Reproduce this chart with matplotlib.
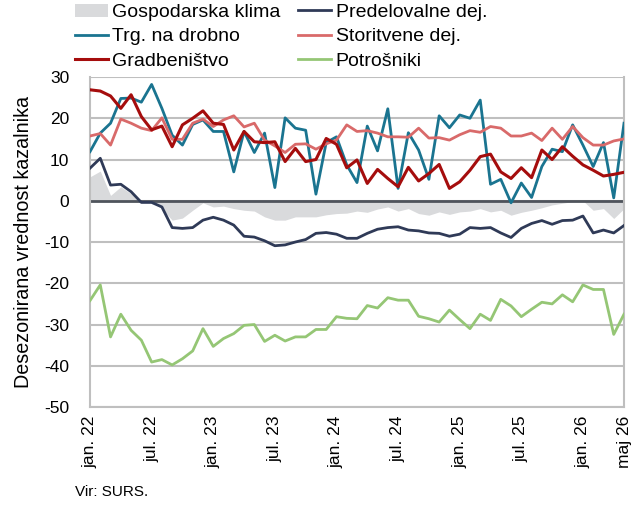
import matplotlib
matplotlib.use("Agg")
import matplotlib.pyplot as plt
import numpy as np

plt.rcParams['font.family'] = ['Liberation Sans', 'DejaVu Sans']
plt.rcParams['axes.unicode_minus'] = False
NARROW = ['Liberation Sans Narrow', 'Liberation Sans', 'DejaVu Sans']

# monthly values, jan 2022 .. maj 2026
klima = [5.8, 7.2, 1.3, 3.4, 1.7, 0.0, -0.3, -1.9, -4.7, -4.2,
         -2.3, -0.5, -1.5, -1.3, -1.9, -2.3, -2.5, -3.9, -4.7, -4.7,
         -3.9, -3.9, -3.9, -3.4, -3.1, -3.0, -2.5, -2.8, -2.0, -1.5,
         -2.5, -1.9, -3.1, -3.5, -2.7, -3.3, -2.7, -2.5, -1.9, -2.7,
         -2.3, -3.5, -2.8, -2.3, -1.7, -1.0, -0.6, -0.2, 0.0, -2.3,
         -1.9, -4.3, -1.9]
predelovalne = [7.9, 10.3, 3.8, 4.0, 2.2, -0.4, -0.4, -1.5, -6.5, -6.7,
                -6.5, -4.7, -4.0, -4.7, -5.9, -8.6, -8.8, -9.7, -10.9, -10.7,
                -10.0, -9.4, -7.9, -7.7, -8.1, -9.1, -9.1, -7.9, -6.9, -6.5,
                -6.3, -7.1, -7.3, -7.8, -7.9, -8.6, -8.1, -6.5, -6.7, -6.5,
                -7.8, -8.9, -6.7, -5.5, -4.8, -5.7, -4.8, -4.7, -3.7, -7.8,
                -7.1, -7.8, -6.0]
trgovina = [11.9, 16.4, 18.8, 24.8, 24.9, 23.9, 28.2, 22.4, 15.9, 13.5,
            18.5, 19.6, 16.8, 16.8, 7.0, 16.8, 11.7, 16.4, 3.2, 20.1,
            17.6, 17.1, 1.6, 14.1, 15.5, 8.7, 4.4, 18.1, 12.1, 22.3,
            3.0, 16.5, 12.3, 5.2, 20.6, 17.7, 20.8, 20.0, 24.4, 4.0,
            5.2, -0.5, 4.3, 0.8, 8.3, 12.5, 11.9, 18.4, 13.5, 8.3,
            14.1, 0.7, 18.8]
storitve = [15.7, 16.3, 13.5, 19.8, 18.8, 17.6, 17.0, 20.1, 14.9, 14.9,
            18.8, 19.8, 18.0, 19.6, 20.6, 17.9, 18.8, 14.7, 13.3, 11.7,
            13.7, 13.8, 12.5, 13.8, 14.7, 18.4, 16.8, 17.0, 16.4, 15.5,
            15.5, 15.4, 17.6, 15.2, 15.3, 14.7, 16.0, 17.0, 16.6, 18.0,
            17.6, 15.7, 15.7, 16.4, 14.6, 17.6, 14.9, 18.0, 15.3, 13.5,
            13.5, 14.5, 15.0]
gradbenistvo = [26.9, 26.6, 25.4, 22.4, 25.7, 20.4, 17.2, 18.1, 13.1, 18.4,
                20.0, 21.8, 18.8, 18.5, 12.3, 16.8, 14.3, 14.1, 14.3, 9.5,
                12.7, 9.5, 10.0, 15.1, 13.7, 8.0, 9.9, 4.2, 7.6, 5.4,
                3.4, 8.1, 4.8, 6.6, 8.8, 3.0, 4.6, 7.4, 10.7, 11.3,
                7.0, 5.4, 8.0, 5.6, 12.3, 10.0, 13.1, 10.8, 8.7, 7.4,
                6.0, 6.4, 6.9]
potrosniki = [-24.2, -20.4, -33.0, -27.5, -31.4, -33.8, -39.1, -38.5, -39.8, -38.3,
              -36.4, -31.0, -35.3, -33.4, -32.2, -30.2, -30.0, -34.1, -32.6, -34.0,
              -33.0, -33.0, -31.2, -31.2, -28.1, -28.5, -28.6, -25.4, -26.0, -23.5,
              -24.1, -24.1, -28.0, -28.6, -29.4, -26.5, -28.8, -31.0, -27.5, -29.0,
              -23.9, -25.5, -28.1, -26.3, -24.6, -25.0, -22.8, -24.5, -20.4, -21.5,
              -21.5, -32.4, -27.5]

tick_pos = [0, 6, 12, 18, 24, 30, 36, 42, 48, 52]
tick_labels = ['jan. 22', 'jul. 22', 'jan. 23', 'jul. 23', 'jan. 24',
               'jul. 24', 'jan. 25', 'jul. 25', 'jan. 26', 'maj 26']

x = np.arange(len(klima))

fig = plt.figure(figsize=(6.37, 5.07), dpi=100)
ax = fig.add_axes([0.1413, 0.1972, 0.8383, 0.6509])

ax.fill_between(x, 0, klima, color='#d9dadc', lw=0, label='Gospodarska klima', zorder=1)
ax.axhline(0, color='#4f545c', lw=2, zorder=2)
ax.plot(x, trgovina, color='#1a7490', lw=2, label='Trg. na drobno', zorder=3)
ax.plot(x, gradbenistvo, color='#a50d0d', lw=2.2, label='Gradbeništvo', zorder=5)
ax.plot(x, predelovalne, color='#2f3a57', lw=2, label='Predelovalne dej.', zorder=4)
ax.plot(x, storitve, color='#d96a6a', lw=2, label='Storitvene dej.', zorder=3)
ax.plot(x, potrosniki, color='#95c675', lw=2, label='Potrošniki', zorder=3)

ax.set_xlim(0, len(klima) - 1)
ax.set_ylim(-50, 30)
ax.set_yticks(range(-50, 31, 10))
ax.set_xticks(tick_pos)
ax.set_xticklabels(tick_labels, rotation=90, fontsize=12.5)
ax.tick_params(axis='y', labelsize=12.5, length=0, pad=15)
ax.tick_params(axis='x', length=0, pad=6)
ax.yaxis.grid(True, color='#bfbfbf', lw=1.5, zorder=0)
ax.set_axisbelow(True)
for s in ax.spines.values():
    s.set_color('#bfbfbf')
    s.set_linewidth(1.5)
ax.spines['top'].set_visible(False)

ax.set_ylabel('Desezonirana vrednost kazalnika', fontsize=14.2, family=NARROW, labelpad=8)

fig.legend(loc='upper left', bbox_to_anchor=(0.1177, 0.993), ncol=2, frameon=False,
           prop={'family': NARROW, 'size': 14}, handlelength=1.7,
           handletextpad=0.22, columnspacing=0.9, labelspacing=0.34,
           borderpad=0, borderaxespad=0)

fig.text(0.118, 0.022, 'Vir: SURS.', fontsize=11, family=NARROW)

fig.savefig('out.png', dpi=100)
